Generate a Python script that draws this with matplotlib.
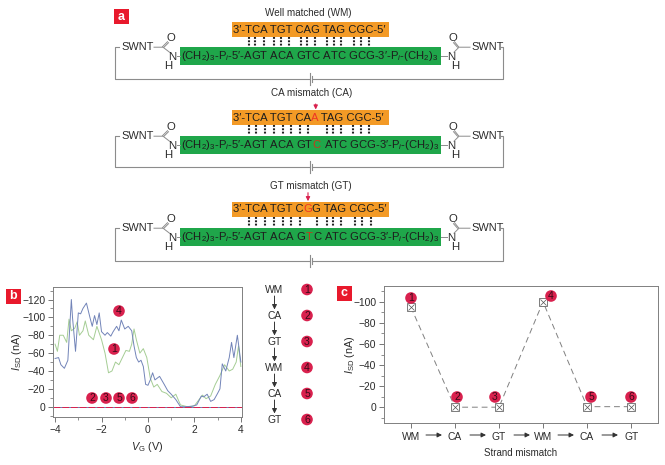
import matplotlib
matplotlib.use('Agg')
import matplotlib.pyplot as plt
from matplotlib.patches import Circle, Rectangle

plt.rcParams['font.family'] = ['Liberation Sans', 'DejaVu Sans']
plt.rcParams['mathtext.fontset'] = 'custom'
plt.rcParams['mathtext.rm'] = 'Liberation Sans'
plt.rcParams['mathtext.it'] = 'Liberation Sans:italic'
plt.rcParams['mathtext.bf'] = 'Liberation Sans:bold'

# panel b
blue_v = [-4, -3.85, -3.75, -3.6, -3.45, -3.3, -3.25, -3.12, -3.0, -2.9, -2.8, -2.65, -2.5, -2.4, -2.3, -2.2,
          -2.1, -2.0, -1.85, -1.75, -1.6, -1.5, -1.35, -1.25, -1.15, -1.0, -0.85, -0.7, -0.6, -0.5, -0.4, -0.3,
          -0.2, -0.1, 0, 0.1, 0.2, 0.3, 0.5, 0.7, 0.85, 1.0, 1.2, 1.4, 1.6, 1.9, 2.1, 2.3, 2.4, 2.55, 2.7, 2.85,
          3.0, 3.1, 3.2, 3.35, 3.5, 3.6, 3.7, 3.85, 4]
blue_i = [-54, -55, -47, -43, -52, -120, -100, -62, -105, -104, -110, -116, -100, -90, -102, -92, -105, -84,
          -80, -83, -79, -84, -90, -85, -97, -87, -90, -85, -68, -55, -50, -52, -45, -25, -24, -30, -38, -30,
          -34, -25, -18, -14, -8, 0, 0, -0.5, -2, -12, -11, -14, -6, -8, -15, -20, -48, -40, -55, -72, -55, -80, -50]
green_v = [-4, -3.9, -3.8, -3.65, -3.5, -3.4, -3.3, -3.15, -3.05, -2.95, -2.8, -2.7, -2.55, -2.35, -2.2, -2.0,
           -1.85, -1.7, -1.55, -1.4, -1.25, -1.1, -0.95, -0.8, -0.7, -0.6, -0.5, -0.35, -0.2, -0.05, 0.1, 0.25,
           0.4, 0.6, 0.8, 1.0, 1.2, 1.4, 1.7, 2.0, 2.2, 2.35, 2.5, 2.7, 2.9, 3.1, 3.3, 3.5, 3.65, 3.8, 3.9, 4]
green_i = [-70, -62, -80, -80, -72, -98, -85, -88, -95, -80, -85, -96, -80, -75, -90, -75, -60, -38, -40, -50,
           -47, -55, -63, -62, -70, -87, -75, -60, -65, -55, -32, -22, -25, -17, -15, -10, -14, -2, 0, -1, -8,
           -13, -9, -12, -25, -35, -47, -40, -42, -50, -68, -45]

# panel c
seq_labels = ['WM', 'CA', 'GT', 'WM', 'CA', 'GT']
seq_i = [-95, 0, 0, -100, -0.5, -0.5]

fig = plt.figure(figsize=(6.65, 4.65), dpi=100)
W, H = 665.0, 465.0
RED = '#d9214e'
GREY = '#8c8c8c'
TXT = '#2b2b2b'


def axes_px(l, t, r, b):
    return fig.add_axes([l / W, 1 - b / H, (r - l) / W, (b - t) / H])


# overlay in pixel coordinates for the schematic
ov = fig.add_axes([0, 0, 1, 1], zorder=5)
ov.set_xlim(0, W)
ov.set_ylim(H, 0)
ov.axis('off')
ov.patch.set_alpha(0)


def text_width(s, size):
    # bar on the end so that blanks at the end are counted
    r = fig.canvas.get_renderer()
    t = ov.text(0, 0, s + '|', fontsize=size)
    b = ov.text(0, 0, '|', fontsize=size)
    w = t.get_window_extent(r).width - b.get_window_extent(r).width
    t.remove()
    b.remove()
    return w


def pieces(x, y, parts, size=8.1):
    # parts drawn one after the other so single letters can be coloured
    for s, c in parts:
        ov.text(x, y, s, color=c, fontsize=size, ha='left', va='center', zorder=4)
        x += text_width(s, size)


def badge(x, y, n):
    ov.add_patch(Circle((x, y), 5.8, color=RED, ec='none', zorder=6))
    ov.text(x, y + 0.2, str(n), ha='center', va='center', fontsize=7.5, color='#3a0a18', zorder=7)


def label_box(x, y, s):
    ov.add_patch(Rectangle((x, y), 14.5, 14.5, color='#e8192c', ec='none'))
    ov.text(x + 7.2, y + 7, s, color='white', fontsize=9, fontweight='bold', ha='center', va='center')


def strand(top_orange, top_green, line_y, title, title_x, title_y, top_parts, bottom_parts, bonds, arrow=None):
    ov.text(title_x, title_y, title, ha='center', va='center', fontsize=7.1, color=TXT)
    ov.add_patch(Rectangle((232, top_orange), 157, 15, color='#f39a26', ec='none'))
    ov.add_patch(Rectangle((180, top_green), 261, 18, color='#1fa64a', ec='none'))
    pieces(233, top_orange + 7.6, top_parts)
    cy = top_green + 9
    pieces(181, cy + 0.3, bottom_parts)
    for bx in bonds:
        ov.plot([bx, bx], [top_orange + 15.5, top_green - 0.5], color='#222222', lw=1.5,
                ls=(0, (0.9, 0.7)))
    if arrow is not None:
        ov.annotate('', xy=(arrow[0], top_orange - 0.5), xytext=(arrow[0], top_orange - arrow[1]),
                    arrowprops=dict(arrowstyle='-|>', color=RED, lw=0.8, mutation_scale=6,
                                    shrinkA=0, shrinkB=0))
    # left linker
    ov.text(121, cy - 8.5, 'SWNT', fontsize=7.9, color=TXT, va='center', ha='left')
    ov.text(170.5, cy - 18, 'O', fontsize=8.2, color=TXT, ha='center', va='center')
    ov.text(172.5, cy + 1, 'N', fontsize=8.2, color=TXT, ha='center', va='center')
    ov.text(168.5, cy + 10.5, 'H', fontsize=8.2, color=TXT, ha='center', va='center')
    ov.plot([154, 163, 169.5], [cy - 8.5, cy - 8.5, cy - 3.5], color=GREY, lw=0.7)
    ov.plot([162.5, 167.5], [cy - 9, cy - 14], color=GREY, lw=0.7)
    ov.plot([164, 168.5], [cy - 8.5, cy - 13], color=GREY, lw=0.7)
    ov.plot([176.5, 180], [cy, cy], color=GREY, lw=0.7)
    # right linker
    ov.text(451.5, cy + 1, 'N', fontsize=8.2, color=TXT, ha='center', va='center')
    ov.text(455, cy + 10.5, 'H', fontsize=8.2, color=TXT, ha='center', va='center')
    ov.text(453, cy - 18, 'O', fontsize=8.2, color=TXT, ha='center', va='center')
    ov.text(471, cy - 8.5, 'SWNT', fontsize=7.9, color=TXT, va='center', ha='left')
    ov.plot([441, 447], [cy, cy], color=GREY, lw=0.7)
    ov.plot([454, 459, 470], [cy - 3.5, cy - 8.5, cy - 8.5], color=GREY, lw=0.7)
    ov.plot([454.5, 458.5], [cy - 14, cy - 9], color=GREY, lw=0.7)
    ov.plot([453.5, 457.5], [cy - 13, cy - 8.5], color=GREY, lw=0.7)
    # circuit and battery
    ov.plot([119, 115, 115, 309], [cy - 8.5, cy - 8.5, line_y, line_y], color=GREY, lw=0.8)
    ov.plot([312, 503, 503, 501], [line_y, line_y, cy - 8.5, cy - 8.5], color=GREY, lw=0.8)
    ov.plot([309.5, 309.5], [line_y - 6, line_y + 6], color=GREY, lw=0.8)
    ov.plot([312, 312], [line_y - 3, line_y + 3], color=GREY, lw=0.8)


K = '#1d1d1d'
ORG = '#ee3524'
DARK_ORG = '#c43a1c'
left_part = '(CH$_2$)$_3$-P$_i$-5′-AGT ACA '
right_part = ' ATC GCG-3′-P$_i$-(CH$_2$)$_3$'
strand(22, 46.7, 78.7, 'Well matched (WM)', 308, 13,
       [('3′-TCA TGT CAG TAG CGC-5′', K)],
       [(left_part + 'GTC' + right_part, K)],
       [249, 255, 264, 274, 281, 289, 301, 307, 315, 327, 334, 341, 354, 361, 369])
strand(110, 135.7, 167, 'CA mismatch (CA)', 312, 93,
       [('3′-TCA TGT CA', K), ('A', ORG), (' TAG CGC-5′', K)],
       [(left_part + 'GT', K), ('C', DARK_ORG), (right_part, K)],
       [249, 256, 265, 274, 283, 291, 300, 308, 327, 333, 341, 353, 361, 369], arrow=(315.7, 6))
strand(201.7, 227.7, 260.7, 'GT mismatch (GT)', 310.7, 185.7,
       [('3′-TCA TGT C', K), ('G', ORG), ('G TAG CGC-5′', K)],
       [(left_part + 'G', K), ('T', DARK_ORG), ('C' + right_part, K)],
       [249, 256, 265, 274, 283, 291, 300, 317, 327, 333, 341, 355, 362, 371], arrow=(308, 9))

label_box(114, 9.5, 'a')
label_box(6, 289, 'b')
label_box(337, 286, 'c')


def style(ax):
    for sp in ax.spines.values():
        sp.set_color('#808080')
        sp.set_linewidth(0.7)
    ax.tick_params(which='major', direction='out', length=3.5, width=0.6, color='#606060', labelsize=7.4,
                   labelcolor=TXT, pad=2)
    ax.tick_params(which='minor', direction='out', length=2, width=0.5, color='#606060')


# panel b
axb = axes_px(53, 287, 242, 417)
axb.plot(green_v, green_i, color='#a5cd94', lw=0.7)
axb.plot(blue_v, blue_i, color='#7284b8', lw=0.7)
axb.axhline(0, color='#6a7fb0', lw=0.7)
axb.axhline(0, color='#d9214e', lw=0.7, ls=(0, (7, 2)))
axb.set_xlim(-4.09, 4.05)
axb.set_ylim(11.5, -134)
axb.set_xticks([-4, -2, 0, 2, 4])
axb.set_xticks([-3, -1, 1, 3], minor=True)
axb.set_yticks([-120, -100, -80, -60, -40, -20, 0])
axb.set_yticks([-130, -110, -90, -70, -50, -30, -10, 10], minor=True)
axb.set_xlabel('$V_{\\mathrm{G}}$ (V)', fontsize=7.8, color=TXT, labelpad=4)
axb.set_ylabel('$I_{\\mathrm{SD}}$ (nA)', fontsize=7.8, color=TXT, labelpad=-1)
style(axb)

for x, y, n in [(114, 349, 1), (119, 311, 4), (92, 398, 2), (106, 398, 3), (119, 398, 5), (132, 398, 6)]:
    badge(x, y, n)

# flow column between b and c
flow_y = [290, 316, 342, 368, 394, 420]
for i, (lab, fy) in enumerate(zip(seq_labels, flow_y)):
    ov.text(274.5, fy, lab, ha='center', va='center', fontsize=7.4, color=TXT)
    badge(307, fy - 0.5, i + 1)
    if i < 5:
        ov.annotate('', xy=(274.5, fy + 19.5), xytext=(274.5, fy + 6),
                    arrowprops=dict(arrowstyle='-|>', color='#333333', lw=0.7, mutation_scale=7,
                                    shrinkA=0, shrinkB=0))

# panel c
axc = axes_px(384, 286, 658, 423)
x_pos = list(range(len(seq_labels)))
axc.plot(x_pos, seq_i, color='#808080', lw=0.7, ls=(0, (6, 4)))
axc.plot(x_pos, seq_i, ls='none', marker='s', ms=5.5, mfc='white', mec='#666666', mew=0.6)
axc.plot(x_pos, seq_i, ls='none', marker='x', ms=4, mec='#555555', mew=0.5)
axc.set_xlim(-0.61, 5.61)
axc.set_ylim(15, -115)
axc.set_xticks(x_pos)
axc.set_xticklabels(seq_labels)
axc.set_yticks([-100, -80, -60, -40, -20, 0])
axc.set_yticks([-110, -90, -70, -50, -30, -10, 10], minor=True)
axc.set_xlabel('Strand mismatch', fontsize=7, color=TXT, labelpad=4)
axc.set_ylabel('$I_{\\mathrm{SD}}$ (nA)', fontsize=7.8, color=TXT, labelpad=-3)
style(axc)
axc.tick_params(axis='x', pad=3)

for x, y, n in [(411, 298, 1), (457, 397, 2), (495, 397, 3), (551, 296, 4), (591, 397, 5), (631, 397, 6)]:
    badge(x, y, n)
for ax0 in [426, 470, 514, 558, 602]:
    ov.annotate('', xy=(ax0 + 16, 435), xytext=(ax0, 435),
                arrowprops=dict(arrowstyle='-|>', color='#333333', lw=0.7, mutation_scale=7,
                                shrinkA=0, shrinkB=0))

fig.savefig('out.png', dpi=100)
